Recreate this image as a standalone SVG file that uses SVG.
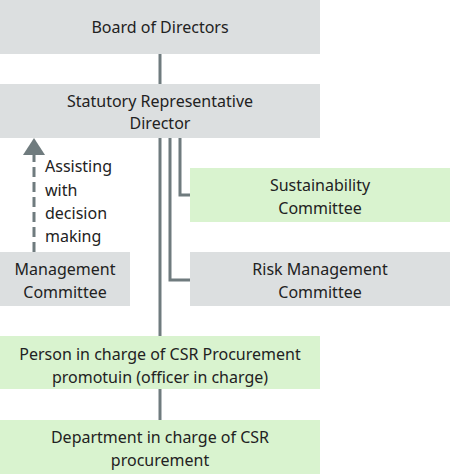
<svg xmlns="http://www.w3.org/2000/svg" width="450" height="474" viewBox="0 0 450 474">
<defs>
<style>
.g{fill:#dcdfe0}
.n{fill:#d9f3cf}
text{font-family:"Noto Sans","Open Sans",sans-serif;font-size:16px;fill:#222;text-anchor:middle}
.l{text-anchor:start}
.c{fill:none;stroke:#6f7b7e;stroke-width:3}
</style>
</defs>
<g id="connectors">
<line class="c" x1="160" y1="54" x2="160" y2="84"/>
<line class="c" x1="160" y1="138" x2="160" y2="336"/>
<polyline class="c" points="170,138 170,280 190,280"/>
<polyline class="c" points="180,138 180,195 190,195"/>
<line class="c" x1="160" y1="389" x2="160" y2="420"/>
<line class="c" x1="34" y1="252" x2="34" y2="154" stroke-dasharray="10,5"/>
<polygon points="34,138 45,155 23,155" fill="#6f7b7e"/>
</g>
<g id="board"><rect class="g" x="0" y="0" width="320" height="54"/><text x="160" y="33">Board of Directors</text></g>
<g id="statutory"><rect class="g" x="0" y="84" width="320" height="54"/><text x="160" y="107">Statutory Representative</text><text x="160" y="129">Director</text></g>
<g id="assist-label"><text class="l" x="45" y="172">Assisting</text><text class="l" x="45" y="196">with</text><text class="l" x="45" y="219">decision</text><text class="l" x="45" y="242">making</text></g>
<g id="sustainability"><rect class="n" x="190" y="168" width="260" height="54"/><text x="320" y="191">Sustainability</text><text x="320" y="214">Committee</text></g>
<g id="management"><rect class="g" x="0" y="252" width="130" height="54"/><text x="65" y="275">Management</text><text x="65" y="298">Committee</text></g>
<g id="risk"><rect class="g" x="190" y="252" width="260" height="54"/><text x="320" y="275">Risk Management</text><text x="320" y="298">Committee</text></g>
<g id="person"><rect class="n" x="0" y="336" width="320" height="53"/><text x="160" y="360">Person in charge of CSR Procurement</text><text x="160" y="383">promotuin (officer in charge)</text></g>
<g id="department"><rect class="n" x="0" y="420" width="320" height="54"/><text x="160" y="443">Department in charge of CSR</text><text x="160" y="466">procurement</text></g>
</svg>
